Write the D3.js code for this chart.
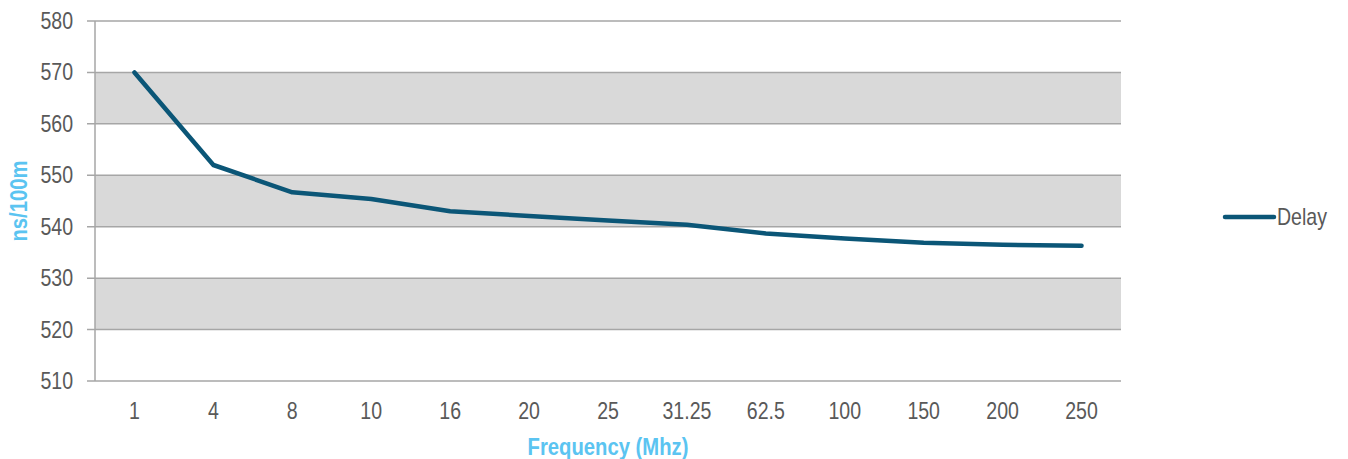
<!DOCTYPE html>
<html><head><meta charset="utf-8">
<script src="https://cdn.jsdelivr.net/npm/d3@7"></script>
<style>body{margin:0;background:#fff}</style>
</head><body>
<svg id="c" width="1348" height="459"></svg>
<script>
const categories = ["1","4","8","10","16","20","25","31.25","62.5","100","150","200","250"];
const delay = [570, 552, 546.7, 545.4, 543, 542.1, 541.2, 540.4, 538.7, 537.7, 536.9, 536.5, 536.3];
const yTicks = [510,520,530,540,550,560,570,580];
const seriesName = "Delay";

const font = "'Liberation Sans',Arial,sans-serif";
const SX = 0.85;
const svg = d3.select("#c");
const L = 95, R = 1121, T = 21, B = 381;
const x = d3.scaleBand().domain(categories).range([L, R]);
const y = d3.scaleLinear().domain([510, 580]).range([B, T]);

// bands
const bandPairs = [[520,530],[540,550],[560,570]];
svg.append("g").selectAll("rect").data(bandPairs).join("rect")
  .attr("x", L).attr("width", R - L)
  .attr("y", d => y(d[1])).attr("height", d => y(d[0]) - y(d[1]))
  .attr("fill", "#d9d9d9");

// gridlines
svg.append("g").selectAll("line").data(yTicks).join("line")
  .attr("x1", 87).attr("x2", R)
  .attr("y1", d => y(d)).attr("y2", d => y(d))
  .attr("stroke", "#a6a6a6").attr("stroke-width", 1.5);

// y axis line
svg.append("line").attr("x1", L).attr("x2", L).attr("y1", T).attr("y2", B)
  .attr("stroke", "#a6a6a6").attr("stroke-width", 1.5);

function narrowText(g, px, py, str, opts) {
  const t = g.append("text")
    .attr("transform", `translate(${px},${py}) ${opts.rotate ? "rotate(-90)" : ""} scale(${opts.sx || SX},1)`)
    .attr("text-anchor", opts.anchor || "start")
    .attr("font-family", font).attr("font-size", opts.size || 23)
    .attr("fill", opts.fill || "#595959")
    .text(str);
  if (opts.bold) t.attr("font-weight", "bold");
  return t;
}

// y tick labels
const gy = svg.append("g");
yTicks.forEach(d => narrowText(gy, 73, y(d) + 8, d, {anchor: "end"}));

// x tick labels
const gx = svg.append("g");
categories.forEach(d => narrowText(gx, x(d) + x.bandwidth() / 2, 419, d, {anchor: "middle"}));

// axis titles
narrowText(svg, (L + R) / 2, 455, "Frequency (Mhz)", {anchor: "middle", bold: true, fill: "#5bc4f1", sx: 0.88});
narrowText(svg, 27, 201, "ns/100m", {anchor: "middle", bold: true, fill: "#5bc4f1", rotate: true, sx: 0.88});

// line
const line = d3.line()
  .x((d, i) => x(categories[i]) + x.bandwidth() / 2)
  .y(d => y(d));
svg.append("path").datum(delay).attr("d", line)
  .attr("fill", "none").attr("stroke", "#0b5677").attr("stroke-width", 4.5)
  .attr("stroke-linecap", "round").attr("stroke-linejoin", "round");

// legend
svg.append("line").attr("x1", 1225).attr("x2", 1274).attr("y1", 217).attr("y2", 217)
  .attr("stroke", "#0b5677").attr("stroke-width", 4.5).attr("stroke-linecap", "round");
narrowText(svg, 1277, 225, seriesName, {});
</script>
</body></html>
